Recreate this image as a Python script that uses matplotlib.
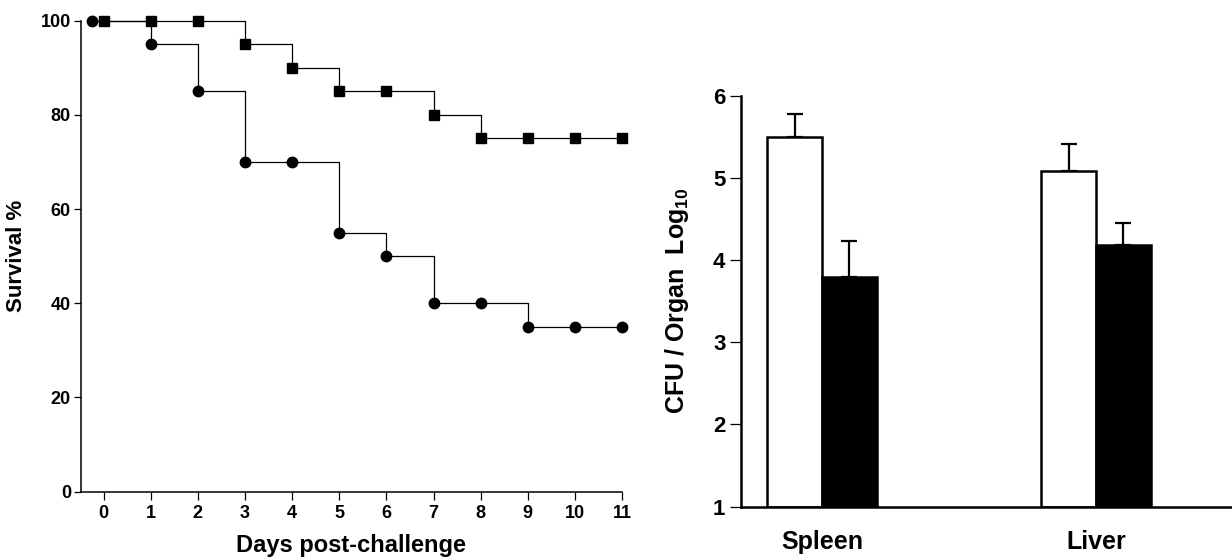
#Survival curves and organ CFU bar chart
import matplotlib
matplotlib.use('Agg')
import matplotlib.pyplot as plt
import numpy as np

plt.rcParams['font.family'] = ['Liberation Sans', 'DejaVu Sans']
plt.rcParams['font.weight'] = 'bold'
plt.rcParams['mathtext.fontset'] = 'custom'
plt.rcParams['mathtext.bf'] = 'Liberation Sans:bold'
plt.rcParams['mathtext.rm'] = 'Liberation Sans:bold'

#Left panel data: survival % per day
days = [0, 1, 2, 3, 4, 5, 6, 7, 8, 9, 10, 11]
circle_days = [-0.25, 1, 2, 3, 4, 5, 6, 7, 8, 9, 10, 11]   #first circle drawn a bit left of day 0
survival_squares = [100, 100, 100, 95, 90, 85, 85, 80, 75, 75, 75, 75]
survival_circles = [100, 95, 85, 70, 70, 55, 50, 40, 40, 35, 35, 35]
survival_ticks = [0, 20, 40, 60, 80, 100]

#Right panel data: CFU / organ (log10)
organs = ['Spleen', 'Liver']
cfu_open = [5.5, 5.08]
cfu_open_err = [0.28, 0.33]
cfu_filled = [3.8, 4.18]
cfu_filled_err = [0.43, 0.27]
cfu_ticks = [1, 2, 3, 4, 5, 6]

fig = plt.figure(figsize=(12.32, 5.59), dpi=100)

#Left panel
ax1 = fig.add_axes([0.0655, 0.1207, 0.4394, 0.8423])
ax1.plot(days, survival_squares, drawstyle='steps-post', color='k', lw=0.9,
         marker='s', ms=6.8, mfc='k', mec='k', clip_on=False, zorder=3)
ax1.plot(circle_days, survival_circles, drawstyle='steps-post', color='k', lw=0.9,
         marker='o', ms=7.5, mfc='k', mec='k', clip_on=False, zorder=3)
ax1.set_xlim(-0.486, 11)
ax1.set_ylim(0, 100)
ax1.set_xticks(days)
ax1.set_yticks(survival_ticks)
ax1.spines['top'].set_visible(False)
ax1.spines['right'].set_visible(False)
ax1.spines['left'].set_linewidth(1.1)
ax1.spines['bottom'].set_linewidth(1.1)
ax1.tick_params(axis='both', labelsize=13, width=0.9, length=6, direction='out')
ax1.tick_params(axis='y', length=5, pad=2)
ax1.set_xlabel('Days post-challenge', fontsize=17, fontweight='bold', labelpad=9)
ax1.set_ylabel('Survival %', fontsize=16, fontweight='bold', labelpad=10)

#Right panel
ax2 = fig.add_axes([0.6012, 0.0936, 0.3988, 0.7352])
x = np.arange(len(organs))
w = 0.2
ax2.bar(x - w / 2, np.array(cfu_open) - 1, w, bottom=1, color='white',
        edgecolor='k', linewidth=1.8, zorder=2)
ax2.bar(x + w / 2, np.array(cfu_filled) - 1, w, bottom=1, color='k',
        edgecolor='k', linewidth=1.8, zorder=2)
ax2.errorbar(x - w / 2, cfu_open, yerr=[np.zeros(len(organs)), cfu_open_err],
             fmt='none', ecolor='k', elinewidth=1.6, capsize=6, capthick=1.6, zorder=1)
ax2.errorbar(x + w / 2, cfu_filled, yerr=[np.zeros(len(organs)), cfu_filled_err],
             fmt='none', ecolor='k', elinewidth=1.6, capsize=6, capthick=1.6, zorder=1)
ax2.set_xlim(-0.297, 1.496)
ax2.set_ylim(1, 6)
ax2.set_yticks(cfu_ticks)
ax2.set_xticks(x)
ax2.set_xticklabels(organs, fontsize=18, fontweight='bold')
ax2.spines['top'].set_visible(False)
ax2.spines['right'].set_visible(False)
ax2.spines['left'].set_linewidth(1.8)
ax2.spines['bottom'].set_linewidth(1.8)
ax2.tick_params(axis='x', length=0, pad=17)
ax2.tick_params(axis='y', labelsize=16, width=0.9, length=8, pad=3)
ax2.set_ylabel('CFU / Organ  Log$_{\\mathbf{10}}$', fontsize=18, fontweight='bold', labelpad=16)

fig.savefig('out.png', dpi=100)
